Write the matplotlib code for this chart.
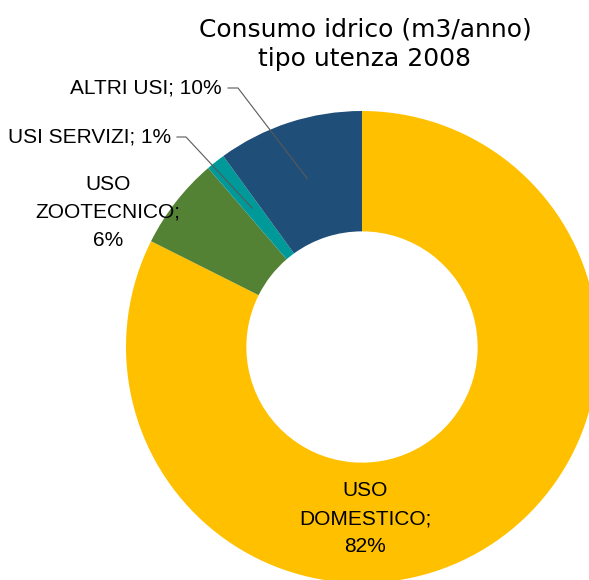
import numpy as np
import matplotlib.pyplot as plt

# dati
categorie = ["USO DOMESTICO", "USO ZOOTECNICO", "USI SERVIZI", "ALTRI USI"]
valori = [82.4, 6.3, 1.3, 10.0]
percentuali = ["82%", "6%", "1%", "10%"]
colori = ["#FFC000", "#548235", "#009999", "#1F4E79"]

titolo = "Consumo idrico (m3/anno)\ntipo utenza 2008"

W, H = 589, 580
CX, CY, R = 362, 347, 236  # centro e raggio in pixel


def px(x, y):
    # pixel (dall'alto a sinistra) -> coordinate dati
    return (x - CX) / R, (CY - y) / R


fig = plt.figure(figsize=(W / 100, H / 100), dpi=100)
ax = fig.add_axes([0, 0, 1, 1])

wedges, _ = ax.pie(valori, colors=colori, startangle=90, counterclock=False,
                   radius=1.0, wedgeprops=dict(width=0.51, linewidth=0))

ax.set_aspect("auto")
ax.set_xlim(-CX / R, (W - CX) / R)
ax.set_ylim(-(H - CY) / R, CY / R)
ax.axis("off")

font_lab = ["Liberation Sans", "DejaVu Sans"]
fs = 15
ls = 1.6


def punto_medio(w, r=0.75):
    ang = np.deg2rad((w.theta1 + w.theta2) / 2)
    return r * np.cos(ang), r * np.sin(ang)


# USO DOMESTICO, dentro la fetta
x, y = px(365, 519)
ax.text(x, y, "USO\nDOMESTICO;\n" + percentuali[0], ha="center", va="center",
        fontsize=fs, family=font_lab, linespacing=ls)

# USO ZOOTECNICO, fuori senza linea
x, y = px(108, 212)
ax.text(x, y, "USO\nZOOTECNICO;\n" + percentuali[1], ha="center", va="center",
        fontsize=fs, family=font_lab, linespacing=ls)

# etichette con linea guida: (fine testo x, y, gomito x)
guide = {2: (171, 137, 186), 3: (222, 88, 238)}
for i, (tx, ty, gx) in guide.items():
    x, y = px(tx, ty)
    ax.text(x, y, f"{categorie[i]}; {percentuali[i]}", ha="right", va="center",
            fontsize=fs, family=font_lab)
    x0, _ = px(tx + 6, ty)
    x1, _ = px(gx, ty)
    ex, ey = punto_medio(wedges[i])
    ax.plot([x0, x1, ex], [y, y, ey], color="#595959", lw=0.8)

fig.text(365 / W, 1 - 44 / H, titolo, ha="center", va="center",
         fontsize=18, family=["DejaVu Sans"], linespacing=1.3)

fig.savefig("out.png", dpi=100)
